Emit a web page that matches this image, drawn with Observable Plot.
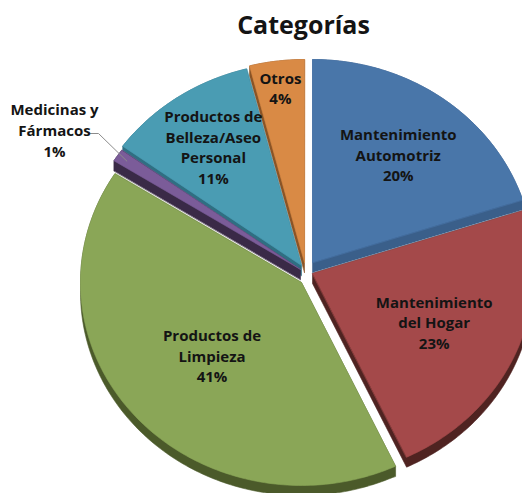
<!DOCTYPE html>
<html>
<head>
<meta charset="utf-8">
<script src="https://cdn.jsdelivr.net/npm/d3@7"></script>
<script src="https://cdn.jsdelivr.net/npm/@observablehq/plot@0.6"></script>
<style>
  html, body { margin: 0; padding: 0; background: #fff; overflow: hidden; }
</style>
</head>
<body>
<div id="chart"></div>
<script>
// Category shares (percent), in clockwise order starting at 12 o'clock
const categories = [
  "Mantenimiento Automotriz",
  "Mantenimiento del Hogar",
  "Productos de Limpieza",
  "Medicinas y Fármacos",
  "Productos de Belleza/Aseo Personal",
  "Otros"
];
const labelLines = [
  ["Mantenimiento", "Automotriz"],
  ["Mantenimiento", "del Hogar"],
  ["Productos de", "Limpieza"],
  ["Medicinas y", "Fármacos"],
  ["Productos de", "Belleza/Aseo", "Personal"],
  ["Otros"]
];
const shares = [20, 23, 41, 1, 11, 4];
const chartTitle = "Categorías";

// Face and side-wall colours of each wedge
const topColors  = ["#4976a9", "#a4494a", "#8aa657", "#7b5c99", "#4a9cb3", "#d98a45"];
const sideColors = ["#3a5f8a", "#4f2321", "#4b5a2a", "#3a2a47", "#2f6f82", "#8a5426"];

// Layout of the tilted pie
const W = 522, H = 493;
const CX = 304, CY = 270;      // pie centre
const RX = 221, RY = 203;      // elliptical top face
const DEPTH = 10;              // thickness of the disc
// how far each wedge is pulled out from the centre (px)
const pullOut = [[8, -8], [8, 3], [-3, 12], [-4, -1], [-3, -5], [0, -8]];
const labelRadius = [0.66, 0.6, 0.54, null, 0.71, 0.87];
const FONT = "'Open Sans', Lato, sans-serif";

const arcs = d3.pie().sort(null).value(d => d)(shares);
const midAngle = a => (a.startAngle + a.endAngle) / 2;

function apexOf(i) {
  return [CX + pullOut[i][0], CY + pullOut[i][1]];
}
function pointAt(apex, angle, r) {
  return [apex[0] + r * RX * Math.sin(angle), apex[1] - r * RY * Math.cos(angle)];
}

const tops = arcs.map((a, i) => {
  const apex = apexOf(i);
  const n = Math.max(2, Math.ceil((a.endAngle - a.startAngle) / (Math.PI / 180)));
  const pts = [apex];
  for (let k = 0; k <= n; ++k) {
    pts.push(pointAt(apex, a.startAngle + (a.endAngle - a.startAngle) * k / n, 1));
  }
  return pts;
});
// Side wall: the top face swept downward by the disc depth
const sides = tops.map(pts => d3.polygonHull(pts.concat(pts.map(([x, y]) => [x, y + DEPTH]))));

// Paint from the back of the disc to the front
const order = d3.range(arcs.length).sort((i, j) => Math.cos(midAngle(arcs[j])) - Math.cos(midAngle(arcs[i])));

const wedgeMarks = order.flatMap(i => [
  Plot.line(sides[i], {x: d => d[0], y: d => d[1], fill: sideColors[i], stroke: sideColors[i], strokeWidth: 0.6, curve: "linear-closed"}),
  Plot.line(tops[i], {x: d => d[0], y: d => d[1], fill: topColors[i], stroke: topColors[i], strokeWidth: 0.6, curve: "linear-closed"})
]);

// Labels placed inside their wedges
const inside = arcs.map((a, i) => {
  if (labelRadius[i] == null) return null;
  const [x, y] = pointAt(apexOf(i), midAngle(a), labelRadius[i]);
  return {x, y, text: labelLines[i].concat(shares[i] + "%").join("\n")};
}).filter(Boolean);

// The smallest wedge gets an outside label with a leader line
const smallIndex = 3;
const leaderEnd = pointAt(apexOf(smallIndex), midAngle(arcs[smallIndex]), 0.95);
const outside = [{x: 54, y: 129, text: labelLines[smallIndex].concat(shares[smallIndex] + "%").join("\n")}];
const leader = [[90, 133], [98, 133], leaderEnd];

const chart = Plot.plot({
  width: W,
  height: H,
  margin: 0,
  x: {domain: [0, W], range: [0, W], axis: null},
  y: {domain: [0, H], range: [0, H], axis: null},
  style: {background: "#fff", overflow: "hidden"},
  marks: [
    ...wedgeMarks,
    Plot.text(inside, {x: "x", y: "y", text: "text", fontSize: 15, fontWeight: "bold", fontFamily: FONT, fill: "#141414", lineHeight: 1.37}),
    Plot.line(leader, {x: d => d[0], y: d => d[1], stroke: "#8c8c8c", strokeWidth: 1}),
    Plot.text(outside, {x: "x", y: "y", text: "text", fontSize: 15, fontWeight: "bold", fontFamily: FONT, fill: "#141414", lineHeight: 1.4}),
    Plot.text([chartTitle], {x: () => 303, y: () => 25, text: d => d, fontSize: 25, fontWeight: "bold", fontFamily: FONT, fill: "#141414"})
  ]
});
document.getElementById("chart").append(chart);
</script>
</body>
</html>
